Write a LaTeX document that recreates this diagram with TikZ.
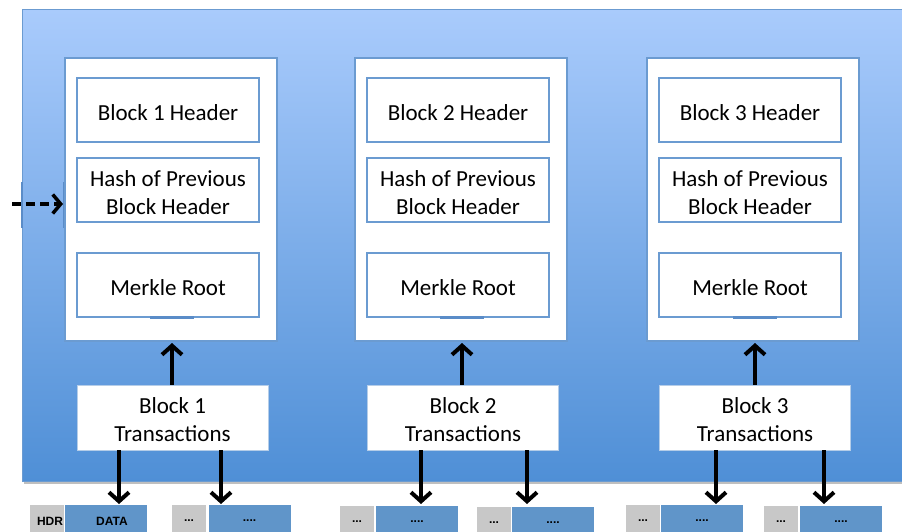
\documentclass[tikz,border=0pt]{standalone}
\usepackage{fontspec}
\setmainfont{Carlito}
\newfontfamily\arialf{Liberation Sans}
\usetikzlibrary{arrows.meta}
\definecolor{bgtop}{HTML}{A9CBFC}
\definecolor{bgbot}{HTML}{4F8FD6}
\definecolor{edgeblue}{HTML}{6B9BD1}
\definecolor{tabblue}{HTML}{5A8CC8}
\definecolor{cellgray}{HTML}{C8C8C8}
\definecolor{cellblue}{HTML}{6095C9}
\tikzset{
  boxtext/.style={align=center, font=\fontsize{23}{28}\selectfont, yshift=-2.5pt, inner sep=0pt},
  outerbox/.style={draw=edgeblue, line width=2pt, fill=white, minimum width=212pt, minimum height=283pt, inner sep=0pt},
  innerbox/.style={draw=edgeblue, line width=2.5pt, fill=white, minimum width=182pt, minimum height=64pt, inner sep=0pt},
  txbox/.style={draw=edgeblue!50, line width=0.8pt, fill=white, minimum width=191pt, minimum height=65pt, inner sep=0pt},
  graycell/.style={fill=cellgray, minimum width=34pt, minimum height=32pt, inner sep=0pt, font=\arialf\bfseries\fontsize{12}{14}\selectfont},
  bluecell/.style={fill=cellblue, minimum width=82pt, minimum height=32pt, inner sep=0pt, font=\arialf\bfseries\fontsize{12}{14}\selectfont},
  arr/.style={line width=4pt, -{Straight Barb[length=9pt,width=20pt]}},
}
\begin{document}
\begin{tikzpicture}[x=1pt,y=-1pt]
\useasboundingbox (0,0) rectangle (902,532);
\begin{scope}
\clip (0,0) rectangle (902,532);
% background panel with shadow
\fill[black!25] (24,12) rectangle (910,484);
\shade[top color=bgtop, bottom color=bgbot, draw=edgeblue, line width=1pt] (22,10) rectangle (910,481);
\draw[tabblue, line width=2pt] (22,182) -- (22,228);
\draw[tabblue, line width=2pt] (64,182) -- (64,228);

\foreach \i/\cx in {1/171,2/461,3/753}{
  \node[outerbox] (b\i) at (\cx,199.5) {};
  \node[innerbox, label={[boxtext]center:Block \i{} Header}] (hdr\i) at (\cx-3,110) {};
  \node[innerbox, label={[boxtext]center:{Hash of Previous\\Block Header}}] (hash\i) at (\cx-3,190) {};
  \node[innerbox, label={[boxtext]center:Merkle Root}] (mr\i) at (\cx-3,285) {};
}
\node[txbox, label={[boxtext]center:{Block 1\\Transactions}}] (tx1) at (172.5,417.5) {};
\node[txbox, label={[boxtext]center:{Block 2\\Transactions}}] (tx2) at (463,417.5) {};
\node[txbox, label={[boxtext]center:{Block 3\\Transactions}}] (tx3) at (755,417.5) {};

% small tabs under Merkle Root boxes
\foreach \ax in {172,462,755}{
  \draw[tabblue, line width=3pt] (\ax-22,317) -- (\ax+22,317);
}

% up arrows
\coordinate (u1) at (172,343);
\coordinate (u2) at (462,343);
\coordinate (u3) at (755,343);
\draw[arr] (tx1.north -| u1) -- (u1);
\draw[arr] (tx2.north -| u2) -- (u2);
\draw[arr] (tx3.north -| u3) -- (u3);

% bottom cells
\node[graycell] (g1) at (47,521) {\hspace*{6pt}HDR};
\node[bluecell] (d1) at (106,521) {\hspace*{12pt}DATA};
\node[graycell] (g2) at (189,521) {...};
\node[bluecell] (d2) at (249.5,521) {....};
\node[graycell] (g3) at (357,522) {...};
\node[bluecell] (d3) at (417,522) {....};
\node[graycell] (g4) at (494,523) {...};
\node[bluecell] (d4) at (553,523) {....};
\node[graycell] (g5) at (643,521) {...};
\node[bluecell] (d5) at (702,521) {....};
\node[graycell] (g6) at (781,522) {...};
\node[bluecell] (d6) at (841,522) {....};

% down arrows
\coordinate (t1a) at (119,504);
\coordinate (t1b) at (221,504);
\coordinate (t2a) at (421,504);
\coordinate (t2b) at (527,504);
\coordinate (t3a) at (716,504);
\coordinate (t3b) at (824,504);
\draw[arr] (tx1.south -| t1a) -- (t1a);
\draw[arr] (tx1.south -| t1b) -- (t1b);
\draw[arr] (tx2.south -| t2a) -- (t2a);
\draw[arr] (tx2.south -| t2b) -- (t2b);
\draw[arr] (tx3.south -| t3a) -- (t3a);
\draw[arr] (tx3.south -| t3b) -- (t3b);

% dashed incoming arrow
\coordinate (din) at (12,204);
\coordinate (dend) at (63,204);
\draw[line width=3.5pt, dash pattern=on 9pt off 5pt, -{Straight Barb[length=8pt,width=19pt]}] (din) -- (dend);
\end{scope}
\end{tikzpicture}
\end{document}
